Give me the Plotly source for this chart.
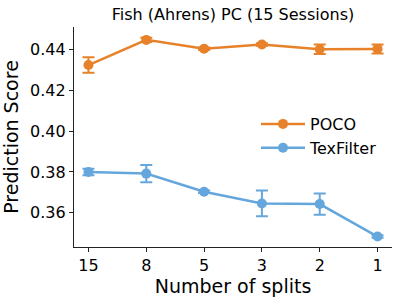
import plotly.graph_objects as go

splits = ["15", "8", "5", "3", "2", "1"]
poco_mean = [0.4323, 0.4446, 0.4403, 0.4423, 0.4400, 0.4402]
poco_err = [0.0038, 0.0010, 0.0006, 0.0006, 0.0023, 0.0022]
tex_mean = [0.3800, 0.3792, 0.3703, 0.3646, 0.3643, 0.3484]
tex_err = [0.0016, 0.0042, 0.0006, 0.0063, 0.0052, 0.0006]

title = "Fish (Ahrens) PC (15 Sessions)"
orange = "#e8822a"
blue = "#65a6dc"
font_family = "DejaVu Sans"

fig = go.Figure()
for name, y, e, c in [("POCO", poco_mean, poco_err, orange),
                      ("TexFilter", tex_mean, tex_err, blue)]:
    fig.add_trace(go.Scatter(
        x=splits, y=y, name=name, mode="lines+markers",
        line=dict(color=c, width=2.5),
        marker=dict(color=c, size=10),
        error_y=dict(type="data", array=e, visible=True, color=c,
                     thickness=2, width=6),
    ))

fig.update_layout(
    width=399, height=299,
    margin=dict(l=74, r=7, t=27, b=52, autoexpand=False),
    paper_bgcolor="white", plot_bgcolor="white",
    font=dict(family=font_family, size=16, color="black"),
    title=dict(text=title, x=(74 + 392) / 2 / 399, xanchor="center",
               y=1 - 14 / 299, yanchor="middle",
               font=dict(size=16, family=font_family, color="black")),
    legend=dict(x=(256 - 74) / 318, y=(247 - 107) / 220, xanchor="left", yanchor="top",
                bgcolor="rgba(0,0,0,0)", font=dict(size=16),
                itemwidth=44, tracegroupgap=0),
    showlegend=True,
)
fig.update_xaxes(
    type="category", range=[-0.25, 5.25], automargin=False,
    showline=True, linecolor="#222", linewidth=1.2,
    ticks="outside", ticklen=4, tickcolor="#222", tickwidth=1.2,
    showgrid=False, zeroline=False,
    title=dict(text="Number of splits", standoff=4),
)
fig.update_yaxes(
    range=[0.3433, 0.4509], automargin=False,
    tickvals=[0.36, 0.38, 0.40, 0.42, 0.44],
    ticktext=["0.36", "0.38", "0.40", "0.42", "0.44"],
    showline=True, linecolor="#222", linewidth=1.2,
    ticks="outside", ticklen=4, tickcolor="#222", tickwidth=1.2,
    showgrid=False, zeroline=False,
    title=dict(text="Prediction Score", standoff=6),
)
fig.write_html("out.html", config={"displayModeBar": False},
               post_script="document.body.style.margin='0';")
